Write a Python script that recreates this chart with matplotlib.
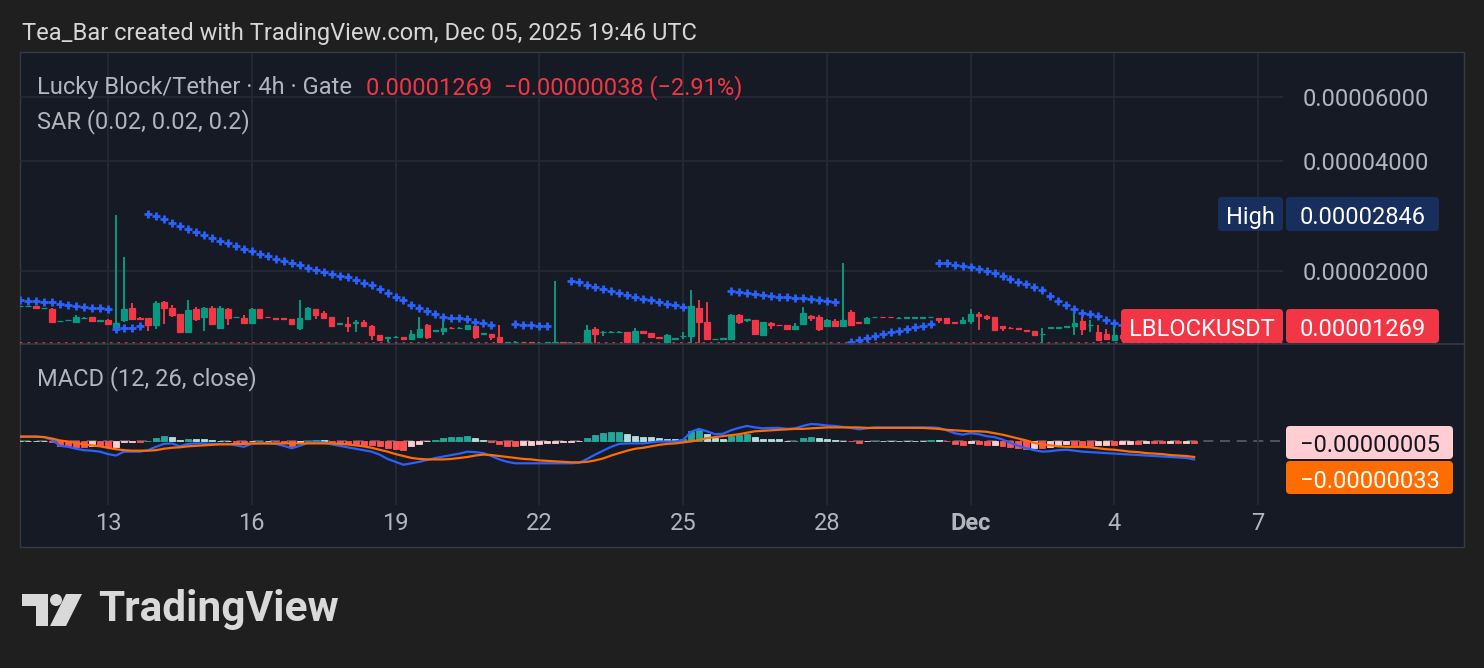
import matplotlib
matplotlib.use("Agg")
import numpy as np
import pandas as pd
import matplotlib.pyplot as plt
import matplotlib.dates as mdates
from matplotlib.patches import Rectangle, FancyBboxPatch, Polygon, Circle
from matplotlib.lines import Line2D
from matplotlib.ticker import NullLocator
from matplotlib.transforms import IdentityTransform

# LBLOCK/USDT 4h bars from Gate, first bar 2025-11-11 04:00 UTC
first_bar = "2025-11-11 04:00"
n_bars = 148

# candle values in units of 1e-8 USDT
open_ = [1603, 1606, 1605, 1583, 1578, 1456, 1466, 1451, 1488, 1492,
         1462, 1465, 1405, 1467, 1585, 1490, 1485, 1421, 1648, 1585,
         1525, 1365, 1578, 1500, 1585, 1400, 1578, 1492, 1490, 1437,
         1570, 1497, 1485, 1483, 1478, 1395, 1480, 1570, 1535, 1492,
         1435, 1430, 1445, 1452, 1418, 1334, 1310, 1316, 1320, 1305,
         1320, 1421, 1370, 1372, 1400, 1397, 1385, 1418, 1345, 1342,
         1318, 1272, 1276, 1280, 1275, 1272, 1272, 1270, 1276, 1270,
         1274, 1270, 1385, 1360, 1362, 1362, 1362, 1278, 1368, 1350,
         1316, 1280, 1305, 1325, 1325, 1585, 1450, 1302, 1305, 1305,
         1520, 1470, 1467, 1334, 1445, 1425, 1421, 1385, 1430, 1510,
         1500, 1415, 1462, 1410, 1540, 1448, 1440, 1492, 1495, 1494,
         1488, 1490, 1490, 1490, 1492, 1488, 1485, 1448, 1445, 1460,
         1525, 1510, 1495, 1410, 1400, 1395, 1378, 1372, 1340, 1400,
         1400, 1405, 1410, 1455, 1420, 1365, 1345, 1292, 1334, 1310,
         1320, 1300, 1285, 1300, 1295, 1310, 1300, 1307]
high = [1608, 1609, 1607, 1588, 1580, 1462, 1472, 1520, 1493, 1494,
        1468, 1480, 2846, 2185, 1630, 1492, 1487, 1655, 1660, 1610,
        1527, 1665, 1596, 1590, 1605, 1605, 1580, 1497, 1515, 1585,
        1572, 1499, 1487, 1485, 1480, 1665, 1596, 1572, 1550, 1494,
        1442, 1492, 1467, 1467, 1420, 1336, 1320, 1324, 1322, 1380,
        1495, 1436, 1377, 1495, 1402, 1403, 1423, 1420, 1352, 1344,
        1427, 1278, 1283, 1282, 1277, 1276, 1278, 1877, 1278, 1276,
        1276, 1427, 1405, 1366, 1367, 1366, 1364, 1400, 1370, 1352,
        1318, 1345, 1310, 1365, 1777, 1665, 1640, 1306, 1309, 1525,
        1522, 1476, 1469, 1452, 1447, 1427, 1423, 1445, 1596, 1512,
        1520, 1480, 1475, 2104, 1560, 1450, 1492, 1497, 1497, 1496,
        1492, 1494, 1494, 1494, 1497, 1490, 1487, 1450, 1492, 1570,
        1540, 1512, 1497, 1412, 1402, 1397, 1380, 1374, 1400, 1407,
        1404, 1412, 1530, 1495, 1467, 1421, 1390, 1405, 1340, 1330,
        1325, 1305, 1310, 1305, 1315, 1312, 1312, 1312]
low = [1600, 1602, 1570, 1580, 1445, 1452, 1463, 1450, 1486, 1458,
       1460, 1420, 1390, 1451, 1478, 1480, 1372, 1385, 1430, 1500,
       1362, 1360, 1460, 1370, 1428, 1395, 1421, 1490, 1435, 1430,
       1475, 1490, 1478, 1478, 1428, 1380, 1478, 1475, 1478, 1410,
       1433, 1365, 1365, 1416, 1292, 1296, 1280, 1314, 1292, 1303,
       1312, 1305, 1368, 1334, 1395, 1395, 1383, 1305, 1343, 1292,
       1270, 1268, 1272, 1272, 1268, 1268, 1268, 1266, 1268, 1266,
       1266, 1268, 1272, 1330, 1360, 1360, 1276, 1276, 1345, 1314,
       1308, 1278, 1303, 1305, 1272, 1272, 1303, 1300, 1303, 1292,
       1430, 1450, 1343, 1332, 1385, 1418, 1383, 1383, 1428, 1460,
       1372, 1410, 1408, 1405, 1423, 1438, 1438, 1490, 1490, 1490,
       1486, 1488, 1488, 1488, 1490, 1445, 1438, 1443, 1443, 1430,
       1380, 1467, 1375, 1370, 1393, 1377, 1370, 1332, 1272, 1398,
       1398, 1403, 1334, 1334, 1365, 1290, 1292, 1290, 1300, 1305,
       1295, 1280, 1282, 1290, 1292, 1295, 1296, 1262]
close = [1606, 1607, 1585, 1586, 1451, 1460, 1470, 1500, 1491, 1460,
         1466, 1428, 1440, 1570, 1480, 1482, 1421, 1630, 1585, 1520,
         1365, 1563, 1480, 1585, 1430, 1585, 1485, 1495, 1437, 1578,
         1490, 1492, 1480, 1480, 1430, 1485, 1585, 1520, 1485, 1415,
         1440, 1418, 1452, 1418, 1334, 1298, 1318, 1322, 1305, 1345,
         1385, 1320, 1375, 1400, 1397, 1400, 1421, 1320, 1350, 1316,
         1275, 1276, 1280, 1275, 1272, 1274, 1276, 1276, 1272, 1274,
         1270, 1382, 1345, 1365, 1365, 1364, 1278, 1368, 1355, 1316,
         1310, 1334, 1308, 1330, 1600, 1450, 1305, 1305, 1308, 1520,
         1450, 1474, 1345, 1450, 1420, 1420, 1385, 1415, 1530, 1485,
         1390, 1472, 1410, 1472, 1425, 1440, 1490, 1495, 1492, 1492,
         1490, 1492, 1492, 1492, 1495, 1467, 1440, 1445, 1467, 1525,
         1505, 1485, 1380, 1400, 1395, 1390, 1372, 1334, 1345, 1405,
         1402, 1410, 1445, 1390, 1425, 1292, 1305, 1334, 1310, 1320,
         1300, 1285, 1300, 1295, 1310, 1300, 1307, 1269]

# parabolic SAR (0.02, 0.02, 0.2), None where the dot is not visible
sar = [1665, 1660, 1655, 1650, 1640, 1623, 1613, 1603, 1590, 1580,
       1580, 1574, 1383, 1392, 1392, 1412, 2868, 2836, 2780, 2716,
       2665, 2610, 2561, 2512, 2465, 2423, 2392, 2347, 2299, 2270,
       2232, 2199, 2163, 2136, 2110, 2079, 2043, 2013, 1991, 1966,
       1941, 1929, 1896, 1860, 1830, 1790, 1744, 1702, 1662, 1616,
       1586, 1558, 1527, 1500, 1490, 1490, 1474, 1451, 1441, 1424,
       None, None, 1430, 1424, 1424, 1413, 1413, None, None, 1884,
       1870, 1830, 1812, 1785, 1766, 1741, 1718, 1700, 1675, 1665,
       1643, 1623, 1615, 1596, None, None, None, None, None, 1766,
       1755, 1741, 1733, 1720, 1708, 1700, 1695, 1690, 1684, 1675,
       1668, 1660, 1650, None, 1280, 1292, 1311, 1328, 1346, 1360,
       1370, 1384, 1405, 1416, 1430, 2110, 2100, 2077, 2064, 2055,
       2029, 2004, 1979, 1938, 1906, 1870, 1842, 1812, 1773, 1705,
       1660, 1613, 1570, 1530, 1524, 1508, 1473, 1441, 1425, 1410,
       1398, 1386, 1375, 1366, 1358, 1350, 1342, 1335]

# MACD (12, 26, close) in units of 1e-8
macd = [9, 9, 9, 8, 2, -10, -12, -16, -19, -20,
        -22, -27, -30, -22, -22, -22, -19, -12, -6, -5,
        -11, -6, -5, -5, -6, -6, -6, -9, -12, -6,
        -5, -5, -6, -10, -15, -10, -4, -3, -3, -7,
        -10, -13, -16, -19, -22, -28, -37, -43, -49, -46,
        -43, -39, -35, -32, -29, -26, -22, -23, -25, -31,
        -38, -43, -46, -46, -46, -46, -46, -46, -46, -46,
        -45, -37, -28, -20, -12, -6, -5, -5, -5, -3,
        -1, -1, -1, 2, 19, 25, 20, 14, 15, 22,
        27, 31, 28, 26, 27, 27, 25, 26, 31, 35,
        34, 32, 31, 29, 27, 24, 26, 28, 28, 28,
        28, 28, 28, 28, 28, 27, 22, 16, 13, 16,
        14, 10, 8, 3, -4, -10, -15, -19, -22, -21,
        -19, -18, -20, -22, -23, -24, -25, -26, -27, -28,
        -29, -30, -31, -32, -33, -34, -35, -38]
signal = [9, 9, 9, 8, 5, 1, -1, -4, -7, -9,
          -11, -14, -17, -19, -20, -20, -20, -19, -16, -14,
          -13, -11, -10, -9, -8, -7, -7, -6, -6, -5,
          -5, -5, -5, -5, -5, -5, -5, -5, -5, -5,
          -6, -7, -9, -11, -14, -18, -22, -27, -31, -35,
          -37, -38, -38, -38, -37, -35, -33, -30, -28, -29,
          -31, -33, -35, -37, -38, -40, -41, -42, -43, -44,
          -44, -43, -40, -36, -30, -25, -20, -16, -14, -11,
          -8, -6, -5, -3, -1, 2, 6, 8, 10, 12,
          14, 17, 20, 21, 22, 23, 24, 25, 25, 26,
          27, 28, 28, 28, 28, 28, 27, 27, 27, 27,
          27, 27, 27, 27, 26, 25, 23, 22, 21, 20,
          20, 19, 16, 13, 9, 5, 1, -4, -7, -9,
          -11, -12, -12, -12, -13, -15, -17, -18, -20, -22,
          -23, -25, -26, -27, -29, -30, -31, -33]

price_ticks = [2e-5, 4e-5, 6e-5]
date_ticks = ["2025-11-13", "2025-11-16", "2025-11-19", "2025-11-22", "2025-11-25",
              "2025-11-28", "2025-12-01", "2025-12-04", "2025-12-07"]
date_labels = ["13", "16", "19", "22", "25", "28", "Dec", "4", "7"]

# colours
W, H = 1484, 668
BG = "#1f1f1f"
PANE = "#161a25"
GRID = "#262a36"
BORDER = "#363a45"
TEXT = "#b2b5be"
UP = "#089981"
DOWN = "#f23645"
SAR_C = "#2962ff"
SIG_C = "#ff6d00"
FS = 17


def fx(px):
    return px / W


def fy(py):
    return 1 - py / H


def px_box(fig, x0, y0, x1, y1, color, text, text_color, size=FS):
    # box drawn in pixel coordinates (top-left origin like the screenshot)
    patch = FancyBboxPatch((x0, H - y1), x1 - x0, y1 - y0,
                           boxstyle="round,pad=0,rounding_size=4",
                           transform=IdentityTransform(), facecolor=color,
                           edgecolor="none", zorder=5)
    fig.add_artist(patch)
    fig.text(fx((x0 + x1) / 2), fy((y0 + y1) / 2 + 1), text, color=text_color,
             fontsize=size, ha="center", va="center_baseline", zorder=6)


def fmt(v):
    s = "{:.8f}".format(abs(v))
    return ("\u2212" + s) if v < 0 else s


def main():
    plt.rcParams["font.family"] = ["Roboto", "DejaVu Sans"]

    times = pd.date_range(first_bar, periods=n_bars, freq="4h")
    x = mdates.date2num(times.to_pydatetime())
    o = np.array(open_) * 1e-8
    h = np.array(high) * 1e-8
    l = np.array(low) * 1e-8
    c = np.array(close) * 1e-8
    s = np.array([np.nan if v is None else v for v in sar], dtype=float) * 1e-8
    m = np.array(macd) * 1e-8
    sg = np.array(signal) * 1e-8
    hist = m - sg

    xt = mdates.date2num(pd.to_datetime(date_ticks).to_pydatetime())
    x_left = mdates.date2num(pd.Timestamp("2025-11-11").to_pydatetime()) + 0.164
    x_right = mdates.date2num(pd.Timestamp("2025-12-07").to_pydatetime()) + 0.52

    fig = plt.figure(figsize=(W / 100, H / 100), dpi=100, facecolor=BG)

    # chart panel background
    fig.add_artist(Rectangle((fx(20), fy(547)), fx(1464) - fx(20), fy(52) - fy(547),
                             transform=fig.transFigure, facecolor=PANE,
                             edgecolor=BORDER, lw=1, zorder=-10))

    # price pane
    ax = fig.add_axes([fx(20), fy(344), fx(1283) - fx(20), fy(53) - fy(344)])
    ax.set_facecolor("none")
    ax.set_yscale("log")
    ax.set_ylim(1.262e-5, 7.92e-5)
    ax.set_xlim(x_left, x_right)

    up = c >= o
    cols = np.where(up, UP, DOWN)
    ax.vlines(x, l, h, colors=cols, lw=1.4, zorder=3)
    ax.bar(x, np.abs(c - o), bottom=np.minimum(o, c), width=0.115,
           color=cols, edgecolor=cols, lw=0.9, zorder=4)
    ax.plot(x, s, ls="none", marker="+", ms=5.5, mew=2, color=SAR_C, zorder=5)
    ax.axhline(c[-1], color=DOWN, ls=(0, (1.5, 3)), lw=1.2, zorder=2)

    ax.set_yticks(price_ticks)
    ax.yaxis.set_minor_locator(NullLocator())
    ax.set_yticklabels([fmt(v) for v in price_ticks])
    ax.yaxis.tick_right()
    ax.tick_params(axis="y", length=0, pad=14, labelsize=FS, labelcolor=TEXT)
    ax.set_xticks(xt)
    ax.tick_params(axis="x", length=0, labelbottom=False)
    ax.grid(True, color=GRID, lw=1.2)
    for sp in ax.spines.values():
        sp.set_visible(False)

    # MACD pane
    ax2 = fig.add_axes([fx(20), fy(505), fx(1283) - fx(20), fy(344) - fy(505)])
    ax2.set_facecolor("none")
    ax2.set_xlim(x_left, x_right)
    ax2.set_ylim(-132e-8, 200e-8)
    hcols = []
    for i, v in enumerate(hist):
        prev = hist[i - 1] if i > 0 else v
        if v >= 0:
            hcols.append("#26a69a" if v > prev else "#b2dfdb")
        else:
            hcols.append("#ffcdd2" if v > prev else "#ff5252")
    ax2.axhline(0, color="#787b86", ls=(0, (6, 4)), lw=1.2, alpha=0.7, zorder=1)
    ax2.bar(x, hist, width=0.125, color=hcols, edgecolor=hcols, lw=0.6, zorder=2)
    ax2.plot(x, m, color=SAR_C, lw=1.6, zorder=3)
    ax2.plot(x, sg, color=SIG_C, lw=1.6, zorder=4)
    ax2.set_yticks([])
    ax2.set_xticks(xt)
    ax2.set_xticklabels(date_labels)
    ax2.tick_params(axis="x", length=0, pad=5, labelsize=FS, labelcolor=TEXT)
    for lab in ax2.get_xticklabels():
        if lab.get_text() == "Dec":
            lab.set_fontweight("bold")
    ax2.grid(True, axis="x", color=GRID, lw=1.2)
    for sp in ax2.spines.values():
        sp.set_visible(False)

    # pane separator
    fig.add_artist(Line2D([fx(20), fx(1464)], [fy(344), fy(344)],
                          transform=fig.transFigure, color=BORDER, lw=1.2))

    # header and legends
    fig.text(fx(22), fy(31), "Tea_Bar created with TradingView.com, Dec 05, 2025 19:46 UTC",
             color="#d6d6d6", fontsize=FS, va="center_baseline")
    fig.text(fx(37), fy(85), "Lucky Block/Tether \u00b7 4h \u00b7 Gate",
             color=TEXT, fontsize=FS, va="center_baseline")
    chg = close[-1] - close[-2]
    pct = chg / close[-2] * 100
    fig.text(fx(366), fy(85),
             "{}  {} ({}%)".format(fmt(c[-1]), fmt(chg * 1e-8),
                                   ("\u2212" if pct < 0 else "") + "{:.2f}".format(abs(pct))),
             color=DOWN, fontsize=FS, va="center_baseline")
    fig.text(fx(37), fy(119), "SAR (0.02, 0.02, 0.2)", color=TEXT, fontsize=FS,
             va="center_baseline")
    fig.text(fx(37), fy(376), "MACD (12, 26, close)", color=TEXT, fontsize=FS,
             va="center_baseline")

    # price scale labels
    navy = "#182f5e"
    px_box(fig, 1218, 197, 1283, 231, navy, "High", "#ffffff")
    px_box(fig, 1286, 197, 1439, 231, navy, fmt(h.max()), "#ffffff")
    px_box(fig, 1121, 309, 1283, 343, DOWN, "LBLOCKUSDT", "#ffffff")
    px_box(fig, 1286, 309, 1439, 343, DOWN, fmt(c[-1]), "#ffffff")
    px_box(fig, 1286, 426, 1453, 459, "#ffcdd2", fmt(hist[-1]), "#131722")
    px_box(fig, 1286, 461, 1453, 494, SIG_C, fmt(sg[-1]), "#ffffff")

    # TradingView logo
    logo = "#d9d9d9"
    tr = IdentityTransform()
    fig.add_artist(Polygon([(22, H - 594), (48, H - 594), (48, H - 626), (36, H - 626),
                            (36, H - 606), (22, H - 606)], closed=True,
                           transform=tr, facecolor=logo, edgecolor="none"))
    fig.add_artist(Circle((56, H - 600), 6, transform=tr, facecolor=logo, edgecolor="none"))
    fig.add_artist(Polygon([(66, H - 594), (82, H - 594), (66, H - 626), (50, H - 626)],
                           closed=True, transform=tr, facecolor=logo, edgecolor="none"))
    fig.text(fx(98), fy(621), "TradingView", color=logo, fontsize=30.5,
             fontweight="bold", va="baseline")

    fig.savefig("out.png", dpi=100, facecolor=BG)


if __name__ == "__main__":
    main()
